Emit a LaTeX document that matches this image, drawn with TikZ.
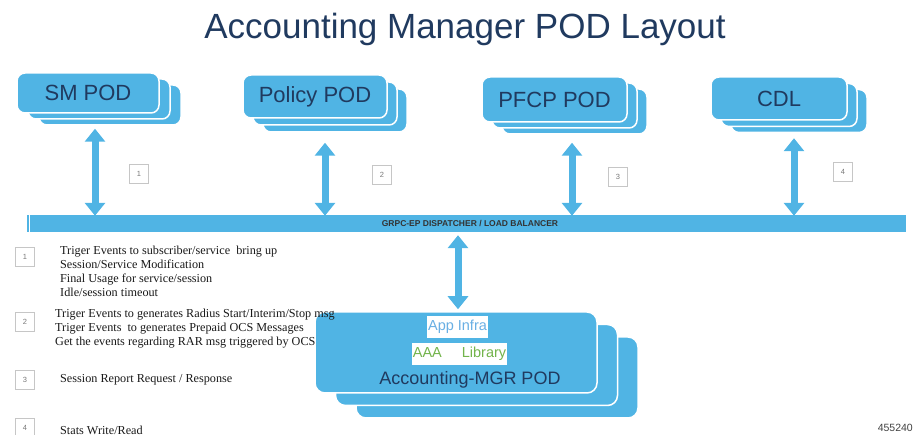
\documentclass[tikz,border=0pt]{standalone}
\usepackage{fontspec}
\setmainfont{Liberation Serif}
\setsansfont{Liberation Sans}
\usetikzlibrary{arrows.meta}
\definecolor{podblue}{RGB}{80,180,228}
\definecolor{navy}{RGB}{32,58,95}
\definecolor{appblue}{RGB}{105,175,228}
\definecolor{libgreen}{RGB}{115,180,75}
\definecolor{numgray}{RGB}{120,120,120}
\begin{document}
\begin{tikzpicture}[x=1pt,y=-1pt,
  pod/.style={draw=white, line width=1.5pt, fill=podblue, rounded corners=8pt, inner sep=0pt},
  podtext/.style={font=\sffamily\fontsize{22}{24}\selectfont, text=navy},
  link/.style={draw=podblue, line width=7pt, {Triangle[width=20pt,length=13pt]}-{Triangle[width=20pt,length=13pt]}},
  numbox/.style={draw=gray!45, line width=0.6pt, minimum size=19pt, inner sep=0pt, font=\sffamily\fontsize{7.5}{8}\selectfont, text=numgray},
  desc/.style={anchor=west, align=left, font=\fontsize{12.2}{14}\selectfont, text=black!90, inner sep=0pt},
  inner/.style={fill=white, inner sep=0pt, minimum height=22pt, font=\sffamily\fontsize{14.5}{16}\selectfont}
]
\path[use as bounding box] (0,0) rectangle (914,435);

% title
\node[anchor=base, font=\sffamily\fontsize{35}{40}\selectfont, text=navy] (title) at (465,39) {Accounting Manager POD Layout};

% SM POD
\node[pod, minimum width=142pt, minimum height=40pt] (sm3) at (110,105) {};
\node[pod, minimum width=142pt, minimum height=40pt] (sm2) at (99,99) {};
\node[pod, podtext, minimum width=142pt, minimum height=40pt] (sm) at (88,93) {SM POD};

% Policy POD
\node[pod, minimum width=144pt, minimum height=43pt] (pol3) at (335,110.5) {};
\node[pod, minimum width=144pt, minimum height=43pt] (pol2) at (325,103.5) {};
\node[pod, podtext, minimum width=144pt, minimum height=43pt] (pol) at (315,96.5) {Policy POD};

% PFCP POD
\node[pod, minimum width=145pt, minimum height=45pt] (pfcp3) at (574.5,111.5) {};
\node[pod, minimum width=145pt, minimum height=45pt] (pfcp2) at (564.5,105.5) {};
\node[pod, podtext, minimum width=145pt, minimum height=45pt] (pfcp) at (554.5,99.5) {PFCP POD};

% CDL
\node[pod, minimum width=136pt, minimum height=43pt] (cdl3) at (799,111) {};
\node[pod, minimum width=136pt, minimum height=43pt] (cdl2) at (789,105) {};
\node[pod, podtext, minimum width=136pt, minimum height=43pt] (cdl) at (779,98.5) {CDL};

% bar
\node[fill=podblue, minimum width=879pt, minimum height=17pt, inner sep=0pt] (bar) at (466.5,223.5) {};
\node[font=\sffamily\bfseries\fontsize{8.5}{10}\selectfont, text=black!80, inner sep=0pt] (bartext) at (470,224) {GRPC-EP DISPATCHER / LOAD BALANCER};
\draw[white, line width=0.8pt] ([xshift=3pt]bar.north west) -- ([xshift=3pt]bar.south west);

% Accounting-MGR POD
\node[pod, minimum width=282pt, minimum height=81pt, rounded corners=10pt] (acc3) at (497,377.5) {};
\node[pod, minimum width=282pt, minimum height=81pt, rounded corners=10pt] (acc2) at (476.5,365) {};
\node[pod, minimum width=282pt, minimum height=81pt, rounded corners=10pt] (acc) at (456,352.5) {};
\node[inner, minimum width=61pt, text=appblue] (app) at (457.5,327) {App Infra};
\node[inner, minimum width=95pt, text=libgreen] (lib) at (459.5,354) {AAA\hspace{20pt}Library};
\node[podtext, font=\sffamily\fontsize{18}{20}\selectfont, inner sep=0pt] (acctext) at (470,380) {Accounting-MGR POD};

% arrows
\path ([yshift=-3pt]sm3.south) coordinate (smb);
\path ([yshift=-10pt]pol3.south) coordinate (polb);
\path ([yshift=-8pt]pfcp3.south) coordinate (pfcpb);
\path ([yshift=-5pt]cdl3.south) coordinate (cdlb);
\path ([yshift=-3pt]bar.south) coordinate (bars);
\path ([yshift=-1pt]bar.north) coordinate (barn);
\draw[link] (smb -| 95,0) -- (barn -| 95,0);
\draw[link] (polb -| 325,0) -- (barn -| 325,0);
\draw[link] (pfcpb -| 572,0) -- (barn -| 572,0);
\draw[link] (cdlb -| 794,0) -- (barn -| 794,0);
\draw[link] (bars -| 458,0) -- ([yshift=2pt]acc.north -| 458,0);

% number boxes (top)
\node[numbox] (n1) at (139,174) {1};
\node[numbox] (n2) at (382,175) {2};
\node[numbox] (n3) at (618,177) {3};
\node[numbox] (n4) at (843,172) {4};

% number boxes (legend)
\node[numbox] (l1) at (25,257) {1};
\node[numbox] (l2) at (25,322) {2};
\node[numbox] (l3) at (25,380) {3};
\node[numbox] (l4) at (25,428) {4};

% legend texts
\node[desc] (d1) at (60,271) {Triger Events to subscriber/service\ \ bring up\\Session/Service Modification\\Final Usage for service/session\\Idle/session timeout};
\node[desc] (d2) at (55,329) {Triger Events to generates Radius Start/Interim/Stop msg\\Triger Events\ \ to generates Prepaid OCS Messages\\Get the events regarding RAR msg triggered by OCS};
\node[desc] (d3) at (60,380) {Session Report Request / Response};
\node[desc] (d4) at (60,430) {Stats Write/Read};

% figure id
\node[anchor=base east, font=\sffamily\fontsize{10.5}{12}\selectfont, text=black!75, inner sep=0pt] (fid) at (913,432) {455240};
\end{tikzpicture}
\end{document}
